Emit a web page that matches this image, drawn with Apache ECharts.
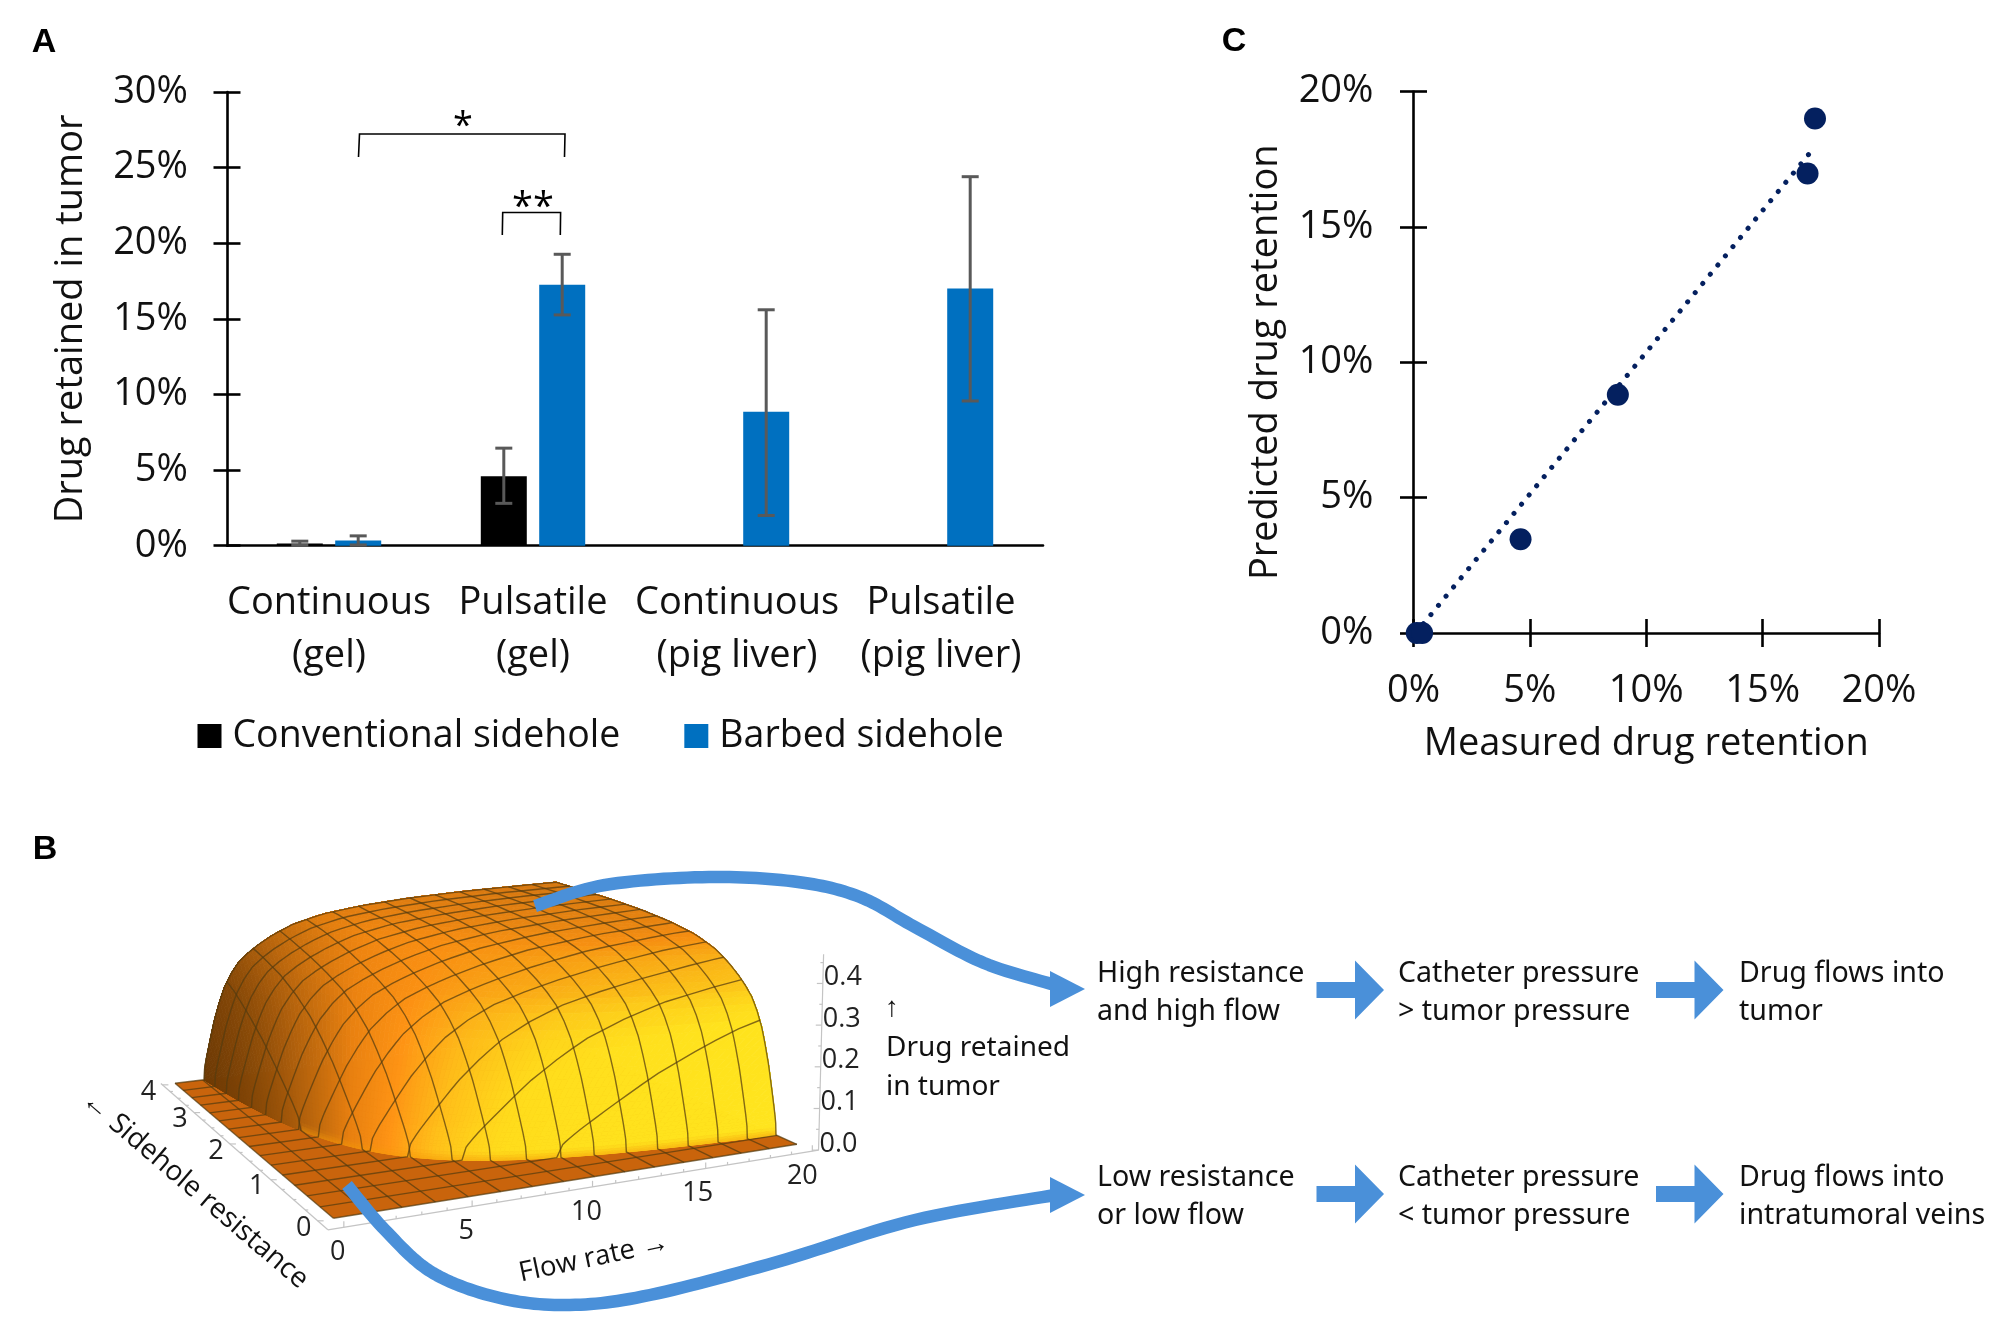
<!DOCTYPE html>
<html><head><meta charset="utf-8">
<style>html,body{margin:0;padding:0;background:#fff}#c{width:2008px;height:1337px}</style>
<script src="https://cdn.jsdelivr.net/npm/echarts@6/dist/echarts.min.js"></script>
</head><body><div id="c"></div>
<script>
// ---------- Panel A data ----------
const categories = ['Continuous\n(gel)', 'Pulsatile\n(gel)', 'Continuous\n(pig liver)', 'Pulsatile\n(pig liver)'];
const conventional = [0.15, 4.6, null, null];
const barbed = [0.35, 17.25, 8.85, 17.0];
const conventionalLow = [0.02, 2.8, null, null];
const conventionalHigh = [0.3, 6.45, null, null];
const barbedLow = [0.05, 15.26, 2.0, 9.57];
const barbedHigh = [0.65, 19.27, 15.6, 24.4];
// ---------- Panel C data ----------
const measured = [0.14, 0.37, 4.6, 8.78, 16.93, 17.25];
const predicted = [0, 0, 3.46, 8.8, 16.97, 19.0];
const trendMeasured = [0.1, 17.25];
const trendPredicted = [0, 17.96];
// ---------- Panel B data ----------
const flowTicks = [0, 5, 10, 15, 20];
const resistanceTicks = [0, 1, 2, 3, 4];
const retainedTicks = [0, 0.1, 0.2, 0.3, 0.4];
// retained fraction read along the surface, against flow x resistance
const profileProduct = [5.6, 5.75, 6.1, 6.6, 7.2, 8, 9, 10, 11.5, 13, 15, 17, 20, 24, 30, 38, 48, 60, 80];
const profileRetained = [0, 0.03, 0.055, 0.085, 0.12, 0.165, 0.21, 0.25, 0.29, 0.32, 0.345, 0.365, 0.39, 0.415, 0.437, 0.452, 0.463, 0.47, 0.475];

const FONT = '"Open Sans"';
const FONT2 = '"Noto Sans"';
const LW = 2.6;

// perspective map of the base plane
const Q = {x0:333.4,y0:1218.3,x1:796.9,y1:1144.3,x2:556,y2:1037,x3:175,y3:1083.3};
const dx1=Q.x1-Q.x2,dx2=Q.x3-Q.x2,dx3=Q.x0-Q.x1+Q.x2-Q.x3,dy1=Q.y1-Q.y2,dy2=Q.y3-Q.y2,dy3=Q.y0-Q.y1+Q.y2-Q.y3;
const den=dx1*dy2-dx2*dy1, pg=(dx3*dy2-dx2*dy3)/den, ph=(dx1*dy3-dx3*dy1)/den;
const pa=Q.x1-Q.x0+pg*Q.x1,pb=Q.x3-Q.x0+ph*Q.x3,pc=Q.x0,pd=Q.y1-Q.y0+pg*Q.y1,pe=Q.y3-Q.y0+ph*Q.y3,pf=Q.y0;
const wRef=pg+1, Z_PX=412;
function project(f,r,z){
  const u=f/20,v=r/4,w=pg*u+ph*v+1;
  let X=(pa*u+pb*v+pc)/w,Y=(pd*u+pe*v+pf)/w;
  const H=Z_PX*wRef/w*z;
  X+=(X-560)*0.0001*H;
  return [X,Y-H];
}
function lookup(P){
  const n=profileProduct.length;
  if(P<=profileProduct[0])return 0;
  if(P>=profileProduct[n-1])return profileRetained[n-1];
  let i=1;while(profileProduct[i]<P)i++;
  const t=(P-profileProduct[i-1])/(profileProduct[i]-profileProduct[i-1]);
  return profileRetained[i-1]+t*(profileRetained[i]-profileRetained[i-1]);
}
const height=(f,r)=>lookup(f*r);
function hex(c){return [parseInt(c.slice(1,3),16),parseInt(c.slice(3,5),16),parseInt(c.slice(5,7),16)];}
const mix=(a,b,t)=>[0,1,2].map(j=>a[j]+t*(b[j]-a[j]));
const ramp=[[0,'#FFE61E'],[0.2,'#FFDC1C'],[0.35,'#FFC01A'],[0.5,'#FF9515'],[0.65,'#E88010'],[0.8,'#B0600C'],[0.95,'#6A3804'],[1,'#4A2500']].map(d=>[d[0],hex(d[1])]);
const flatTop=hex('#D27410'),midTone=hex('#F58A10'),footTone=hex('#F59A0A');
function shade(f,r){
  const P=f*r;
  const k=0.1,P1=Math.max(P*(1-k),profileProduct[0]),P2=P*(1+k);
  const gp=(lookup(P2)-lookup(P1))/(P2-P1);
  const gx=gp*r*20*1.2, gy=gp*f*4*1.2/0.8, s=Math.hypot(gx,gy);
  const a=Math.atan2(gx,gy)/(Math.PI/2);
  let i=1;while(i<ramp.length-1&&ramp[i][0]<a)i++;
  const t=Math.min(1,Math.max(0,(a-ramp[i-1][0])/(ramp[i][0]-ramp[i-1][0])));
  const col=mix(ramp[i-1][1],ramp[i][1],t);
  const m=Math.min(1,1.15*s/(s+0.5));
  const mid=mix(midTone,col,a*a);
  let out=m<0.5?mix(flatTop,mid,m*2):mix(mid,col,(m-0.5)*2);
  const zz=lookup(P);
  if(zz<0.018&&a<0.8)out=mix(footTone,out,0.5+0.5*zz/0.018);
  return out;
}
// surface sampled along curves of equal flow x resistance
const pS=[],rhoS=[];
for(let t=0;t<=56;t++)pS.push(profileProduct[0]+(profileProduct[profileProduct.length-1]-profileProduct[0])*Math.pow(t/56,3));
for(let t=0;t<=130;t++)rhoS.push(71.4*Math.pow(0.35/71.4,t/130));
function clampPt(rho,P){
  let f=Math.sqrt(P*rho),r=P/f;
  if(f>20){f=20;r=P/20;}
  if(r>4){r=4;f=P/4;}
  return [f,r];
}
const cells=[];
for(let i=0;i<rhoS.length-1;i++)for(let j=0;j<pS.length-1;j++){
  const c=clampPt(Math.sqrt(rhoS[i]*rhoS[i+1]),(pS[j]+pS[j+1])/2);
  cells.push([i,j,c[0]/20+c[1]/4]);
}
cells.sort((a,b)=>b[2]-a[2]);
const meshLines=[];
for(let k=0;k<=15;k++){
  const f=k*4/3,rr=[0];pS.forEach(P=>{if(f>0&&P/f<4)rr.push(P/f);});rr.push(4);
  meshLines.push(rr.map(r=>project(f,r,height(f,r))));
}
for(let k=0;k<=15;k++){
  const r=k*4/15,ff=[0];pS.forEach(P=>{if(r>0&&P/r<20)ff.push(P/r);});ff.push(20);
  meshLines.push(ff.map(f=>project(f,r,height(f,r))));
}
const axF0=-0.6,axF1=20.3,axR0=-0.2,axR1=4.05,zTop=0.47;
const boxLines=[
  [project(axF0,axR0,0),project(axF1,axR0,0)],
  [project(axF0,axR0,0),project(axF0,axR1,0)],
  [project(axF1,axR0,0),project(axF1,axR0,zTop)]
];
for(let f=0;f<=20;f++){const a=project(f,axR0,0);boxLines.push([a,[a[0],a[1]-(f%5?3:6)]]);}
for(let r=0;r<=16;r++){const a=project(axF0,r/4,0);boxLines.push([a,[a[0]+(r%4?3:6),a[1]]]);}
for(let z=0;z<=9;z++){const a=project(axF1,axR0,z/20);boxLines.push([a,[a[0]-(z%2?3:6),a[1]]]);}
const boxLabels=[];
flowTicks.forEach(f=>{const a=project(f,axR0,0);boxLabels.push([String(f),a[0]-6-(f>10?(f-10)*0.4:0),a[1]+25]);});
resistanceTicks.forEach(r=>{const a=project(axF0,r,0);boxLabels.push([String(r),a[0]-14,a[1]+7]);});
retainedTicks.forEach(z=>{const a=project(axF1,axR0,z);boxLabels.push([z.toFixed(1),a[0]+20,a[1]-6]);});

const ARROW='#4A90D9';
function blockArrow(x,cy){
  return {type:'polygon',z:50,shape:{points:[[x,cy-8],[x+38.5,cy-8],[x+38.5,cy-29.5],[x+67.5,cy],[x+38.5,cy+29.5],[x+38.5,cy+8],[x,cy+8]]},style:{fill:ARROW}};
}
function head(x,cy){
  return {type:'polygon',z:50,shape:{points:[[x,cy-18],[x+35,cy],[x,cy+18]]},style:{fill:ARROW}};
}
// smooth open curve through guide points
function curve(pts){
  const out=[];
  for(let i=0;i<pts.length-1;i++){
    const p0=pts[Math.max(i-1,0)],p1=pts[i],p2=pts[i+1],p3=pts[Math.min(i+2,pts.length-1)];
    for(let s=0;s<14;s++){
      const t=s/14,t2=t*t,t3=t2*t;
      out.push([0,1].map(k=>0.5*(2*p1[k]+(p2[k]-p0[k])*t+(2*p0[k]-5*p1[k]+4*p2[k]-p3[k])*t2+(3*p1[k]-p0[k]-3*p2[k]+p3[k])*t3)));
    }
  }
  out.push(pts[pts.length-1]);
  return {type:'polyline',z:50,shape:{points:out},style:{stroke:ARROW,lineWidth:12.5,fill:null,lineJoin:'round'}};
}
function txt(t,x,y,size,opt){
  return Object.assign({type:'text',z:60,x,y,style:{text:t,font:size+'px '+FONT2,fill:'#111',align:'left',verticalAlign:'middle'}},opt||{});
}
function letter(t,x,y){
  return {type:'text',z:60,x,y,style:{text:t,font:'bold 34px "Liberation Sans"',fill:'#000',align:'center',verticalAlign:'middle'}};
}
function bracket(pts){return {type:'polyline',z:40,shape:{points:pts},style:{stroke:'#000',lineWidth:1.6,fill:null}};}

const graphic=[
  letter('A',44,43),letter('C',1234,42),letter('B',45,850),
  bracket([[358.5,157],[359.5,134],[565,134],[564.5,157]]),
  bracket([[502.3,235],[502.7,212.5],[560.6,212.5],[560.3,235]]),
  {type:'text',z:60,x:463,y:127,style:{text:'*',font:'36px '+FONT,fill:'#000',align:'center',verticalAlign:'middle'}},
  {type:'text',z:60,x:533,y:208,style:{text:'**',font:'38px '+FONT,fill:'#000',align:'center',verticalAlign:'middle'}},
  curve([[535,906],[605,885],[709,877],[798,882],[860,897],[915,927],[984,963],[1055,985]]),
  head(1050,989),
  curve([[347,1185],[385,1230],[433,1273],[500,1298],[570,1305],[650,1295],[777,1262],[915,1220],[1055,1195]]),
  head(1050,1195),
  blockArrow(1316.5,990),blockArrow(1656,990),blockArrow(1316.5,1194),blockArrow(1656,1194),
  txt('High resistance',1097,974,28.6),txt('and high flow',1097,1012,28.6),
  txt('Catheter pressure',1398,974,28.6),txt('> tumor pressure',1398,1012,28.6),
  txt('Drug flows into',1739,974,28.6),txt('tumor',1739,1012,28.6),
  txt('Low resistance',1097,1178,28.6),txt('or low flow',1097,1216,28.6),
  txt('Catheter pressure',1398,1178,28.6),txt('< tumor pressure',1398,1216,28.6),
  txt('Drug flows into',1739,1178,28.6),txt('intratumoral veins',1739,1216,28.6),
  txt('↑',885,1008,28),txt('Drug retained',886,1048,28),txt('in tumor',886,1087,28),
  {type:'text',z:60,x:594,y:1258,rotation:12*Math.PI/180,style:{text:'Flow rate →',font:'27.5px '+FONT,fill:'#111',align:'center',verticalAlign:'middle'}},
  {type:'text',z:60,x:195,y:1190,rotation:-40.5*Math.PI/180,style:{text:'← Sidehole resistance',font:'28px '+FONT,fill:'#111',align:'center',verticalAlign:'middle'}}
];

function errorRender(side){
  return function(params,api){
    const c=api.value(0),lo=api.coord([c,api.value(1)]),hi=api.coord([c,api.value(2)]);
    const x=lo[0]+side*29.2,cap=8.5;
    const st={stroke:'#595959',lineWidth:3};
    return {type:'group',children:[
      {type:'line',shape:{x1:x,y1:lo[1],x2:x,y2:hi[1]},style:st},
      {type:'line',shape:{x1:x-cap,y1:lo[1],x2:x+cap,y2:lo[1]},style:st},
      {type:'line',shape:{x1:x-cap,y1:hi[1],x2:x+cap,y2:hi[1]},style:st}
    ]};
  };
}
const errData=(lo,hi)=>lo.map((v,i)=>v==null?null:[i,v,hi[i]]).filter(Boolean);
const axisLineStyle={show:true,onZero:false,lineStyle:{color:'#000',width:LW}};
const tick=(inside,len)=>({show:true,inside,length:len,lineStyle:{color:'#000',width:LW}});
const lab={fontFamily:FONT,fontSize:38,color:'#111'};

const option={
  backgroundColor:'#fff',animation:false,
  grid:[
    {left:227,top:92,width:816,height:453.7},
    {left:1413.5,top:91.5,width:465.5,height:541.5},
    {left:0,top:0,width:2008,height:1337}
  ],
  legend:{
    data:['Conventional sidehole','Barbed sidehole'],left:197.5,top:717,padding:0,itemWidth:24,itemHeight:24,itemGap:64,
    icon:'rect',selectedMode:false,textStyle:{fontFamily:FONT,fontSize:37.5,color:'#111',padding:[0,0,0,6]}
  },
  xAxis:[
    {type:'category',gridIndex:0,data:categories,position:'bottom',axisLine:axisLineStyle,axisTick:{show:false},splitLine:{show:false},
      axisLabel:Object.assign({},lab,{interval:0,lineHeight:53,margin:31})},
    {type:'value',gridIndex:1,min:0,max:20,interval:5,position:'bottom',axisLine:axisLineStyle,axisTick:tick(false,14),splitLine:{show:false},
      axisLabel:Object.assign({},lab,{margin:39,formatter:'{value}%',showMinLabel:true,showMaxLabel:true}),
      name:'Measured drug retention',nameLocation:'middle',nameGap:92,nameMoveOverlap:false,nameTextStyle:{fontFamily:FONT,fontSize:38,color:'#111'}},
    {type:'value',gridIndex:1,min:0,max:20,interval:5,position:'bottom',axisLine:{show:false},axisTick:tick(true,14),splitLine:{show:false},axisLabel:{show:false}},
    {type:'value',gridIndex:2,min:0,max:2008,show:false}
  ],
  yAxis:[
    {type:'value',gridIndex:0,min:0,max:30,interval:5,position:'left',axisLine:axisLineStyle,axisTick:tick(false,13.5),splitLine:{show:false},
      axisLabel:Object.assign({},lab,{margin:39,formatter:'{value}%'}),
      name:'Drug retained in tumor',nameLocation:'middle',nameGap:137,nameMoveOverlap:false,nameTextStyle:{fontFamily:FONT,fontSize:38,color:'#111'}},
    {type:'value',gridIndex:0,min:0,max:30,interval:5,position:'left',axisLine:{show:false},axisTick:tick(true,13.5),splitLine:{show:false},axisLabel:{show:false}},
    {type:'value',gridIndex:1,min:0,max:20,interval:5,position:'left',axisLine:axisLineStyle,axisTick:tick(false,13.5),splitLine:{show:false},
      axisLabel:Object.assign({},lab,{margin:40,formatter:'{value}%'}),
      name:'Predicted drug retention',nameLocation:'middle',nameGap:128,nameMoveOverlap:false,nameTextStyle:{fontFamily:FONT,fontSize:38,color:'#111'}},
    {type:'value',gridIndex:1,min:0,max:20,interval:5,position:'left',axisLine:{show:false},axisTick:tick(true,13.5),splitLine:{show:false},axisLabel:{show:false}},
    {type:'value',gridIndex:2,min:0,max:1337,inverse:true,show:false}
  ],
  graphic,
  series:[
    {name:'Conventional sidehole',type:'bar',xAxisIndex:0,yAxisIndex:0,data:conventional,barWidth:46,barGap:'27%',itemStyle:{color:'#000'}},
    {name:'Barbed sidehole',type:'bar',xAxisIndex:0,yAxisIndex:0,data:barbed,barWidth:46,barGap:'27%',itemStyle:{color:'#0070C0'}},
    {type:'custom',xAxisIndex:0,yAxisIndex:0,data:errData(conventionalLow,conventionalHigh),renderItem:errorRender(-1),encode:{x:0,y:[1,2]},z:5},
    {type:'custom',xAxisIndex:0,yAxisIndex:0,data:errData(barbedLow,barbedHigh),renderItem:errorRender(1),encode:{x:0,y:[1,2]},z:5},
    {type:'line',xAxisIndex:1,yAxisIndex:2,data:trendMeasured.map((x,i)=>[x,trendPredicted[i]]),showSymbol:false,symbol:'none',
      lineStyle:{color:'#04205F',width:5,type:[0.1,11.8],cap:'round'},z:4},
    {type:'scatter',xAxisIndex:1,yAxisIndex:2,data:measured.map((x,i)=>[x,predicted[i]]),symbolSize:22,itemStyle:{color:'#04205F',opacity:1},z:6,clip:false},
    // base plate
    {type:'custom',xAxisIndex:3,yAxisIndex:4,silent:true,clip:false,z:2,data:[[0]],
      renderItem(params,api){
        const pts=[[0,0],[20,0],[20,4],[0,4]].map(p=>api.coord(project(p[0],p[1],0)));
        return {type:'polygon',shape:{points:pts},style:{fill:'#C9640C'}};
      }},
    // surface
    {type:'custom',xAxisIndex:3,yAxisIndex:4,silent:true,clip:false,progressive:0,z:2,data:cells,
      renderItem(params,api){
        const i=api.value(0),j=api.value(1);
        const q=[[i,j],[i+1,j],[i+1,j+1],[i,j+1]].map(p=>clampPt(rhoS[p[0]],pS[p[1]]));
        const pts=q.map(p=>api.coord(project(p[0],p[1],height(p[0],p[1]))));
        const mid=clampPt(Math.sqrt(rhoS[i]*rhoS[i+1]),(pS[j]+pS[j+1])/2);
        const col='rgb('+shade(mid[0],mid[1]).map(Math.round).join(',')+')';
        return {type:'polygon',shape:{points:pts},style:{fill:col,stroke:col,lineWidth:0.8}};
      }},
    {type:'custom',xAxisIndex:3,yAxisIndex:4,silent:true,clip:false,progressive:0,z:3,data:meshLines.map((l,i)=>[i]),
      renderItem(params,api){
        const l=meshLines[api.value(0)];
        return {type:'polyline',shape:{points:l.map(p=>api.coord(p))},style:{stroke:'rgba(85,60,15,0.72)',lineWidth:1.4,fill:null}};
      }},
    {type:'custom',xAxisIndex:3,yAxisIndex:4,silent:true,clip:false,z:1,data:boxLines.map((l,i)=>[i]),
      renderItem(params,api){
        const l=boxLines[api.value(0)];
        return {type:'polyline',shape:{points:l.map(p=>api.coord(p))},style:{stroke:'#c4c4c4',lineWidth:1.2,fill:null}};
      }},
    {type:'custom',xAxisIndex:3,yAxisIndex:4,silent:true,clip:false,z:3,data:boxLabels.map((l,i)=>[i]),
      renderItem(params,api){
        const l=boxLabels[api.value(0)],p=api.coord([l[1],l[2]]);
        return {type:'text',x:p[0],y:p[1],style:{text:l[0],font:'27px '+FONT,fill:'#222',align:'center',verticalAlign:'middle'}};
      }}
  ]
};
const chart=echarts.init(document.getElementById('c'),null,{renderer:'canvas',width:2008,height:1337});
chart.setOption(option);
</script></body></html>
